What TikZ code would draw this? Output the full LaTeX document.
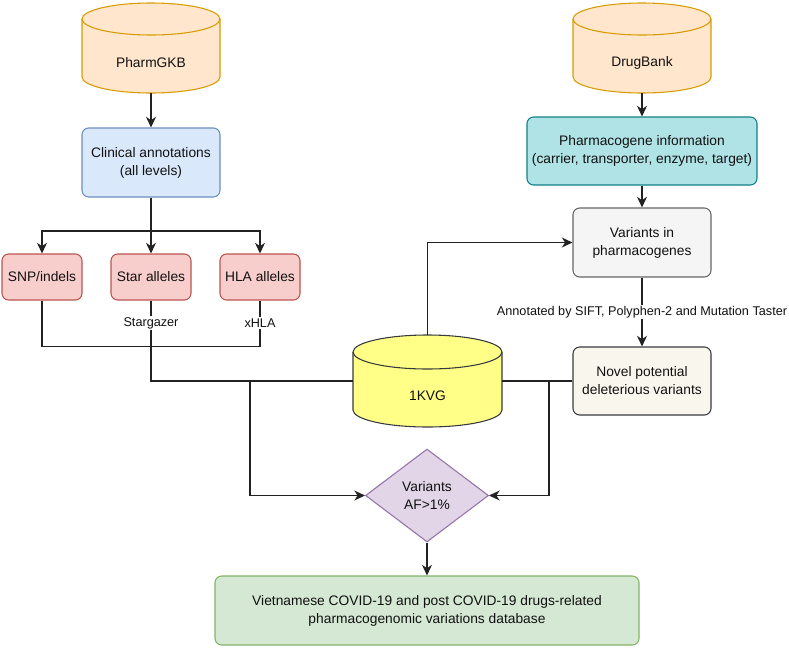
\documentclass[tikz,border=0pt]{standalone}
\usepackage{fontspec}
\setmainfont{Liberation Sans}
\usetikzlibrary{arrows.meta,shapes.geometric}
\definecolor{orf}{HTML}{FFE6CC}\definecolor{ors}{HTML}{D79B00}
\definecolor{blf}{HTML}{DAE8FC}\definecolor{bls}{HTML}{6C8EBF}
\definecolor{rdf}{HTML}{F8CECC}\definecolor{rds}{HTML}{B85450}
\definecolor{tlf}{HTML}{B0E3E6}\definecolor{tls}{HTML}{0E8088}
\definecolor{gyf}{HTML}{F5F5F5}\definecolor{gys}{HTML}{666666}
\definecolor{nvf}{HTML}{F9F7ED}\definecolor{nvs}{HTML}{36393D}
\definecolor{ylf}{HTML}{FFFF88}
\definecolor{puf}{HTML}{E1D5E7}\definecolor{pus}{HTML}{9673A6}
\definecolor{grf}{HTML}{D5E8D4}\definecolor{grs}{HTML}{82B366}
\definecolor{lin}{HTML}{222222}\definecolor{txt}{HTML}{111111}
\begin{document}
\begin{tikzpicture}[x=0.75pt,y=-0.75pt,
  mainfont/.style={font=\fontsize{10.35}{13.5}\selectfont, text=txt},
  box/.style={draw, rounded corners=5pt, line width=0.8pt, align=center, inner sep=0pt, mainfont},
  cylarea/.style={inner sep=0pt, minimum width=#1, minimum height=67.5pt},
  cyltext/.style={mainfont, inner sep=0pt},
  conn/.style={draw=lin, line width=0.9pt},
  arr/.style={conn, -{Stealth[length=8pt,width=7.5pt,inset=2.5pt]}},
  lbl/.style={fill=white, inner sep=1pt, font=\fontsize{9.5}{11}\selectfont, text=txt}]
\useasboundingbox (0,0) rectangle (789,647);

% PharmGKB cylinder
\filldraw[fill=orf, draw=ors, line width=0.8pt] (82,19) -- (82,77)
  arc[start angle=180,end angle=360,x radius=51.75pt,y radius=12pt] -- (220,19)
  arc[start angle=0,end angle=180,x radius=51.75pt,y radius=12pt] -- cycle;
\draw[draw=ors, line width=0.8pt] (82,19) arc[start angle=180,end angle=360,x radius=51.75pt,y radius=12pt];
\node[cylarea=103.5pt] (pgkb) at (151,48) {};
\node[cyltext] (pgkbt) at (151,63) {PharmGKB};

% DrugBank cylinder
\filldraw[fill=orf, draw=ors, line width=0.8pt] (573,19) -- (573,77)
  arc[start angle=180,end angle=360,x radius=51.75pt,y radius=12pt] -- (711,19)
  arc[start angle=0,end angle=180,x radius=51.75pt,y radius=12pt] -- cycle;
\draw[draw=ors, line width=0.8pt] (573,19) arc[start angle=180,end angle=360,x radius=51.75pt,y radius=12pt];
\node[cylarea=103.5pt] (dbank) at (642,48) {};
\node[cyltext] (dbankt) at (642,63) {DrugBank};

% 1KVG cylinder
\filldraw[fill=ylf, draw=nvs, line width=0.8pt] (353,352) -- (353,410)
  arc[start angle=180,end angle=360,x radius=55.875pt,y radius=12.75pt] -- (502,352)
  arc[start angle=0,end angle=180,x radius=55.875pt,y radius=12.75pt] -- cycle;
\draw[draw=nvs, line width=0.8pt] (353,352) arc[start angle=180,end angle=360,x radius=55.875pt,y radius=12.75pt];
\node[inner sep=0pt, minimum width=111.75pt, minimum height=69pt] (kvg) at (427.5,381) {};
\node[cyltext] (kvgt) at (427.5,396) {1KVG};

% boxes
\node[box, fill=blf, draw=bls, minimum width=103.5pt, minimum height=51.75pt] (clin) at (151,162.5) {Clinical annotations\\(all levels)};
\node[box, fill=rdf, draw=rds, minimum width=60pt, minimum height=34.5pt] (snp) at (42,277) {SNP/indels};
\node[box, fill=rdf, draw=rds, minimum width=60pt, minimum height=34.5pt] (star) at (151,277) {Star alleles};
\node[box, fill=rdf, draw=rds, minimum width=60pt, minimum height=34.5pt] (hla) at (260,277) {HLA alleles};
\node[box, fill=tlf, draw=tls, minimum width=172.5pt, minimum height=51pt] (phinfo) at (642,151) {Pharmacogene information\\(carrier, transporter, enzyme, target)};
\node[box, fill=gyf, draw=gys, minimum width=103.5pt, minimum height=51.75pt] (var) at (642,242.5) {Variants in\\pharmacogenes};
\node[box, fill=nvf, draw=nvs, minimum width=103.5pt, minimum height=51pt] (nov) at (642,381) {Novel potential\\deleterious variants};
\node[box, fill=grf, draw=grs, minimum width=318pt, minimum height=51.75pt] (final) at (427,610.5) {Vietnamese COVID-19 and post COVID-19 drugs-related\\pharmacogenomic variations database};
\node[diamond, draw=pus, fill=puf, line width=0.8pt, inner sep=0pt, minimum width=92.25pt, minimum height=69.75pt, align=center, mainfont] (dia) at (427,495.5) {Variants\\AF>1\%};

% connectors
\coordinate (j1) at (151,231);
\coordinate (j3) at (250,381);
\coordinate (j4) at (549,381);
\draw[arr] (pgkb.south) -- (clin.north);
\draw[conn] (clin.south) -- (j1);
\draw[arr] (j1) -| (snp.north);
\draw[arr] (j1) -- (star.north);
\draw[arr] (j1) -| (hla.north);
\draw[conn] (snp.south) -- ++(0,46) -| (hla.south);
\draw[conn] (star.south) |- (kvg.west);
\node[lbl] (stg) at (151,323) {Stargazer};
\node[lbl] (xhla) at (260,323) {xHLA};
\draw[arr] (j3) |- (dia.west);
\draw[conn] (kvg.east) -- (nov.west);
\draw[arr] (j4) |- (dia.east);
\draw[arr] (kvg.north) |- (var.west);
\draw[arr] (dbank.south) -- (phinfo.north);
\draw[arr] (phinfo.south) -- (var.north);
\draw[arr] (var.south) -- (nov.north);
\node[lbl] (annot) at (642,312) {Annotated by SIFT, Polyphen-2 and Mutation Taster};
\draw[arr] (dia.south) -- (final.north);
\end{tikzpicture}
\end{document}
